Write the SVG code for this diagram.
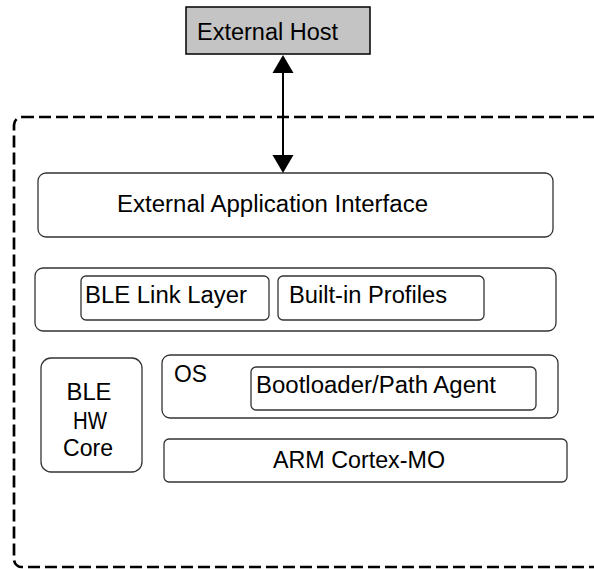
<svg xmlns="http://www.w3.org/2000/svg" width="594" height="569" viewBox="0 0 594 569">
  <defs>
    <style>
      .box { fill: #ffffff; stroke: #333333; stroke-width: 1.3; }
      .host { fill: #c4c4c4; stroke: #000000; stroke-width: 1.5; }
      .label { font-family: "Liberation Sans", Arial, sans-serif; font-size: 23.5px; fill: #000000; }
      .boundary { fill: none; stroke: #000000; stroke-width: 2.7; stroke-dasharray: 12 5; }
      .link { stroke: #000000; stroke-width: 2; fill: none; }
      .head { fill: #000000; }
    </style>
  </defs>

  <!-- device boundary (dashed) -->
  <rect class="boundary" x="14" y="117" width="620" height="450" rx="8"/>

  <g id="external-host">
    <rect class="host" x="186" y="7" width="184" height="47"/>
    <text class="label" x="197" y="40" textLength="141" lengthAdjust="spacingAndGlyphs">External Host</text>
  </g>

  <g id="external-application-interface">
    <rect class="box" x="38" y="173" width="515" height="64" rx="8"/>
    <text class="label" x="117" y="212" textLength="311" lengthAdjust="spacingAndGlyphs">External Application Interface</text>
  </g>

  <g id="link-profiles-layer">
    <rect class="box" x="35" y="268" width="521" height="63" rx="8"/>
  </g>

  <g id="ble-link-layer">
    <rect class="box" x="81" y="276" width="188" height="44" rx="5"/>
    <text class="label" x="85" y="303" textLength="162" lengthAdjust="spacingAndGlyphs">BLE Link Layer</text>
  </g>

  <g id="built-in-profiles">
    <rect class="box" x="278" y="276" width="206" height="44" rx="5"/>
    <text class="label" x="289" y="303" textLength="158" lengthAdjust="spacingAndGlyphs">Built-in Profiles</text>
  </g>

  <g id="ble-hw-core">
    <rect class="box" x="41" y="358" width="101" height="114" rx="10"/>
    <text class="label" x="89" y="400" text-anchor="middle" textLength="45" lengthAdjust="spacingAndGlyphs">BLE</text>
    <text class="label" x="90" y="428.5" text-anchor="middle" textLength="34" lengthAdjust="spacingAndGlyphs">HW</text>
    <text class="label" x="88" y="456" text-anchor="middle" textLength="50" lengthAdjust="spacingAndGlyphs">Core</text>
  </g>

  <g id="os">
    <rect class="box" x="162" y="355" width="396" height="63" rx="8"/>
    <text class="label" x="174" y="382" textLength="33" lengthAdjust="spacingAndGlyphs">OS</text>
  </g>

  <g id="bootloader-path-agent">
    <rect class="box" x="251" y="367" width="285" height="43" rx="5"/>
    <text class="label" x="256" y="393" textLength="240" lengthAdjust="spacingAndGlyphs">Bootloader/Path Agent</text>
  </g>

  <g id="arm-cortex-m0">
    <rect class="box" x="164" y="439" width="403" height="43" rx="5"/>
    <text class="label" x="273" y="468" textLength="172" lengthAdjust="spacingAndGlyphs">ARM Cortex-MO</text>
  </g>

  <!-- host link: two-way arrow -->
  <g id="connectors">
    <line class="link" x1="283" y1="72" x2="283" y2="156"/>
    <polygon class="head" points="283,55 272.5,73 293.5,73"/>
    <polygon class="head" points="283,173 272.5,155 293.5,155"/>
  </g>
</svg>
